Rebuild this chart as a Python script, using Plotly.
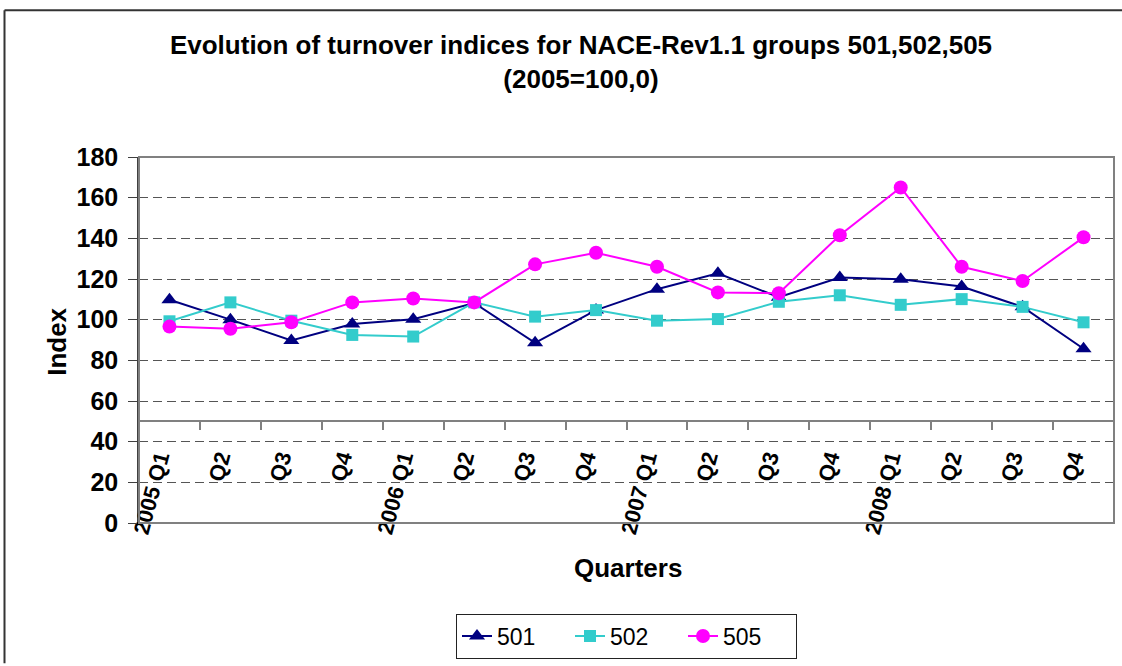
import plotly.graph_objects as go

quarters = ["2005 Q1", "Q2", "Q3", "Q4",
            "2006 Q1", "Q2", "Q3", "Q4",
            "2007 Q1", "Q2", "Q3", "Q4",
            "2008 Q1", "Q2", "Q3", "Q4"]
s501 = [109.8, 100.0, 89.8, 97.9, 100.2, 108.2, 88.6, 104.7, 115.0, 122.8, 111.0, 120.7, 119.9, 116.3, 106.3, 85.7]
s502 = [99.2, 108.5, 99.5, 92.5, 91.7, 108.5, 101.5, 104.7, 99.5, 100.3, 108.8, 112.0, 107.3, 110.1, 106.3, 98.7]
s505 = [96.6, 95.5, 98.7, 108.5, 110.4, 108.5, 127.2, 132.9, 126.0, 113.4, 113.0, 141.5, 165.0, 126.0, 119.0, 140.5]

FONT = "Arial, Liberation Sans, sans-serif"
x = list(range(len(quarters)))

fig = go.Figure()
fig.add_trace(go.Scatter(x=x, y=s501, name="501", mode="lines+markers",
                         line=dict(color="#000080", width=2),
                         marker=dict(symbol="triangle-up", size=14, color="#000080")))
fig.add_trace(go.Scatter(x=x, y=s502, name="502", mode="lines+markers",
                         line=dict(color="#33CCCC", width=2),
                         marker=dict(symbol="square", size=12, color="#33CCCC")))
fig.add_trace(go.Scatter(x=x, y=s505, name="505", mode="lines+markers",
                         line=dict(color="#FF00FF", width=2),
                         marker=dict(symbol="circle", size=14, color="#FF00FF")))

W, H = 1122, 666
L, R, T, B = 139, 8, 157, 141
pw, ph = W - L - R, H - T - B

def px_x(px):
    return (px - L) / pw

def px_y(py):
    return (H - B - py) / ph

fig.update_layout(
    width=W, height=H,
    margin=dict(l=L, r=R, t=T, b=B),
    paper_bgcolor="white", plot_bgcolor="white",
    font=dict(family=FONT, color="black"),
    title=dict(text="<b>Evolution of turnover indices for NACE-Rev1.1 groups 501,502,505<br>(2005=100,0)</b>",
               x=581 / W, xanchor="center", y=1 - 54 / H, yanchor="top",
               font=dict(size=26, family=FONT, color="black")),
    showlegend=True,
    legend=dict(orientation="h", x=0.5, xanchor="center", y=px_y(616), yanchor="top",
                bordercolor="#222222", borderwidth=1, bgcolor="white", entrywidth=68,
                font=dict(size=23, family=FONT, color="black")),
    xaxis=dict(range=[-0.5, len(quarters) - 0.5], tickmode="array",
               tickvals=[i - 0.17 for i in x], ticktext=quarters,
               tickangle=-75, ticks="", anchor="free", position=50 / 180,
               showgrid=False, zeroline=False, showline=True, linecolor="#808080", linewidth=1.5,
               tickfont=dict(size=22, family=FONT, color="black", weight="bold"),
               ticklabelstandoff=14,
               minor=dict(tickvals=[i - 0.5 for i in range(len(quarters) + 1)], ticks="outside",
                          ticklen=8, tickcolor="#808080", tickwidth=1.5, showgrid=False)),
    yaxis=dict(range=[0, 180], dtick=20, tick0=0, ticks="outside", ticklen=9, tickcolor="#404040",
               showline=True, linecolor="#404040", linewidth=1.5,
               showgrid=True, gridcolor="#555555", gridwidth=1, griddash="9px,5px",
               zeroline=False, ticklabelstandoff=5,
               tickfont=dict(size=25, family=FONT, color="black", weight="bold")),
    annotations=[
        dict(text="<b>Index</b>", x=px_x(57), y=0.495, xref="paper", yref="paper",
             textangle=-90, showarrow=False, font=dict(size=26, family=FONT, color="black"),
             xanchor="center", yanchor="middle"),
        dict(text="<b>Quarters</b>", x=px_x(628), y=px_y(570), xref="paper", yref="paper",
             showarrow=False, font=dict(size=26, family=FONT, color="black"),
             xanchor="center", yanchor="middle"),
    ],
    shapes=[
        dict(type="rect", xref="paper", yref="paper", x0=0, x1=1, y0=0, y1=1,
             line=dict(color="#808080", width=2), layer="above"),
        dict(type="line", xref="paper", yref="paper", x0=px_x(4.5), x1=px_x(1122), y0=px_y(9.5), y1=px_y(9.5),
             line=dict(color="#333333", width=2)),
        dict(type="line", xref="paper", yref="paper", x0=px_x(4.5), x1=px_x(4.5), y0=px_y(9.5), y1=px_y(666),
             line=dict(color="#333333", width=2)),
    ],
)

fig.write_html("out.html", config={"displayModeBar": False},
               post_script="document.body.style.margin='0';document.body.style.overflow='hidden';")
